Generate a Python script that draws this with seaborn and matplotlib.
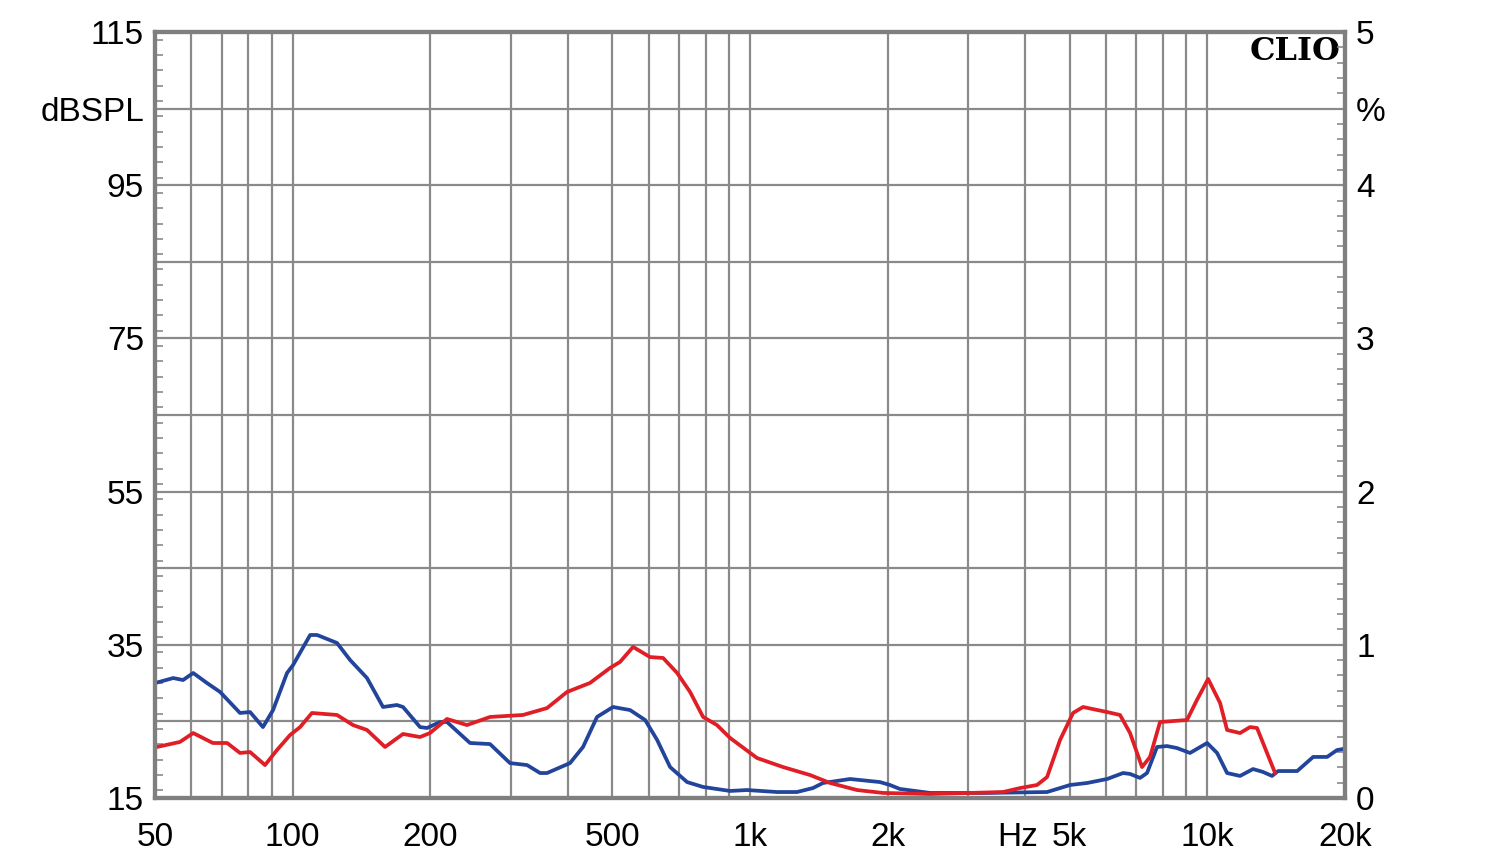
import numpy as np
import pandas as pd
import matplotlib
matplotlib.use("Agg")
import matplotlib.pyplot as plt
from matplotlib.ticker import FixedLocator, MultipleLocator, NullFormatter
import seaborn as sns

# ---- data (distortion, %) ----
blue_freq = [50.4, 54.8, 57.6, 60.6, 65.0, 69.4, 76.7, 80.7, 86.1, 90.6, 97.2, 100.2, 109.2, 113.1,
             125.0, 133.5, 145.4, 157.6, 169.0, 174.3, 189.9, 196.7, 210.0, 217.5, 244.2, 270.1,
             298.6, 325.5, 347.5, 359.9, 404.1, 431.4, 462.9, 501.7, 546.8, 589.8, 626.5, 668.8,
             728.5, 789.6, 904.6, 985.5, 1146, 1267, 1373, 1444, 1655, 1924, 2023, 2127, 2476,
             3300, 4463, 5011, 5460, 6037, 6543, 6777, 7126, 7381, 7763, 8163, 8584, 9164, 9990,
             10504, 11046, 11790, 12588, 13237, 13850, 14277, 15720, 17038, 18276, 19217, 19810]
blue_pct = [0.753, 0.783, 0.770, 0.816, 0.750, 0.692, 0.555, 0.561, 0.463, 0.574, 0.816, 0.868, 1.064, 1.064,
            1.012, 0.901, 0.783, 0.594, 0.607, 0.594, 0.463, 0.457, 0.496, 0.496, 0.359, 0.352,
            0.228, 0.215, 0.163, 0.163, 0.228, 0.333, 0.529, 0.594, 0.574, 0.509, 0.379, 0.202,
            0.104, 0.072, 0.046, 0.052, 0.039, 0.039, 0.065, 0.098, 0.124, 0.104, 0.085, 0.059, 0.033,
            0.033, 0.039, 0.085, 0.098, 0.124, 0.163, 0.157, 0.131, 0.163, 0.333, 0.339, 0.326, 0.294, 0.359,
            0.294, 0.163, 0.144, 0.189, 0.170, 0.144, 0.176, 0.176, 0.268, 0.268, 0.313, 0.320]

red_freq = [50.5, 56.7, 60.6, 66.9, 71.9, 76.7, 80.7, 87.0, 92.4, 98.7, 103.8, 110.2, 125.0, 135.5,
            145.4, 159.2, 174.3, 189.9, 199.6, 217.5, 240.5, 270.1, 318.9, 347.5, 359.9, 398.0,
            446.8, 494.3, 519.7, 555.0, 604.6, 645.6, 693.0, 739.6, 789.6, 846.8, 904.6, 1036,
            1181, 1353, 1497, 1714, 1954, 2476, 3576, 3896, 4244, 4463, 4764, 5086, 5348, 6037,
            6443, 6777, 7198, 7494, 7881, 9026, 9491, 10039, 10663, 11046, 11790, 12398, 12843,
            13506, 14068]
red_pct = [0.333, 0.366, 0.424, 0.359, 0.359, 0.294, 0.300, 0.215, 0.313, 0.411, 0.463, 0.555, 0.542, 0.476,
           0.444, 0.333, 0.418, 0.398, 0.424, 0.516, 0.476, 0.529, 0.542, 0.574, 0.587, 0.692,
           0.751, 0.849, 0.888, 0.986, 0.920, 0.914, 0.816, 0.692, 0.529, 0.476, 0.392, 0.261,
           0.202, 0.150, 0.098, 0.052, 0.033, 0.026, 0.039, 0.065, 0.085, 0.137, 0.379, 0.555, 0.594, 0.561,
           0.542, 0.424, 0.202, 0.268, 0.496, 0.509, 0.640, 0.777, 0.620, 0.444, 0.424, 0.463, 0.457,
           0.294, 0.163]

x_major = [50, 100, 200, 500, 1000, 2000, 5000, 10000, 20000]
x_major_labels = ["50", "100", "200", "500", "1k", "2k", "5k", "10k", "20k"]
x_minor = [60, 70, 80, 90, 300, 400, 600, 700, 800, 900, 3000, 4000, 6000, 7000, 8000, 9000]
left_ticks = [15, 25, 35, 45, 55, 65, 75, 85, 95, 105, 115]
left_labels = ["15", "", "35", "", "55", "", "75", "", "95", "dBSPL", "115"]
right_ticks = [0, 0.5, 1, 1.5, 2, 2.5, 3, 3.5, 4, 4.5, 5]
right_labels = ["0", "", "1", "", "2", "", "3", "", "4", "%", "5"]

sns.set_style("white")
plt.rcParams['font.family'] = ['Liberation Sans', 'DejaVu Sans']

fig = plt.figure(figsize=(15, 8.64), dpi=100)
ax = fig.add_axes([155/1500, 66/864, 1190/1500, 766/864])
ax2 = ax.twinx()

grid_c = "#8a8a8a"
ax.set_xscale("log")
ax.set_xlim(50, 20000)
ax.set_ylim(15, 115)
ax2.set_ylim(0, 5)

ax.xaxis.set_major_locator(FixedLocator(x_major))
ax.xaxis.set_minor_locator(FixedLocator(x_minor))
ax.set_xticklabels(x_major_labels)
ax.xaxis.set_minor_formatter(NullFormatter())
ax.yaxis.set_major_locator(FixedLocator(left_ticks))
ax.set_yticklabels(left_labels)
ax.yaxis.set_minor_locator(MultipleLocator(2))
ax2.yaxis.set_major_locator(FixedLocator(right_ticks))
ax2.set_yticklabels(right_labels)
ax2.yaxis.set_minor_locator(MultipleLocator(0.1))

ax.grid(True, which="both", axis="x", color=grid_c, lw=1.6)
ax.grid(True, which="major", axis="y", color=grid_c, lw=1.6)
ax.set_axisbelow(True)

fs = 24
ax.tick_params(axis="x", which="both", length=0, labelsize=fs, pad=17, labelcolor="black")
ax.tick_params(axis="y", which="major", length=0, labelsize=fs, pad=8, labelcolor="black")
ax.tick_params(axis="y", which="minor", direction="in", length=6, width=1.2, color=grid_c, left=True)
ax2.tick_params(axis="y", which="major", length=0, labelsize=fs, pad=8, labelcolor="black")
ax2.tick_params(axis="y", which="minor", direction="in", length=6, width=1.2, color=grid_c, right=True)

for a in (ax, ax2):
    for s in a.spines.values():
        s.set_visible(True)
        s.set_color("#7f7f7f")
        s.set_linewidth(3)

dfb = pd.DataFrame({"freq": blue_freq, "pct": blue_pct})
dfr = pd.DataFrame({"freq": red_freq, "pct": red_pct})
sns.lineplot(data=dfb, x="freq", y="pct", ax=ax2, color="#22449a", lw=2.7, sort=False)
sns.lineplot(data=dfr, x="freq", y="pct", ax=ax2, color="#e01e25", lw=2.7, sort=False)
ax2.set_ylabel("")
ax.set_xlabel("")
ax.set_ylabel("")
ax2.set_xlabel("")

ax.annotate("Hz", xy=(3850, 0), xycoords=("data", "axes fraction"), xytext=(0, -17),
            textcoords="offset points", ha="center", va="top", fontsize=fs, color="black")

ax.text(0.996, 0.995, "CLIO", transform=ax.transAxes, ha="right", va="top",
        fontsize=23, fontweight="bold", fontfamily="DejaVu Serif", color="black")

fig.savefig("out.png", dpi=100)
